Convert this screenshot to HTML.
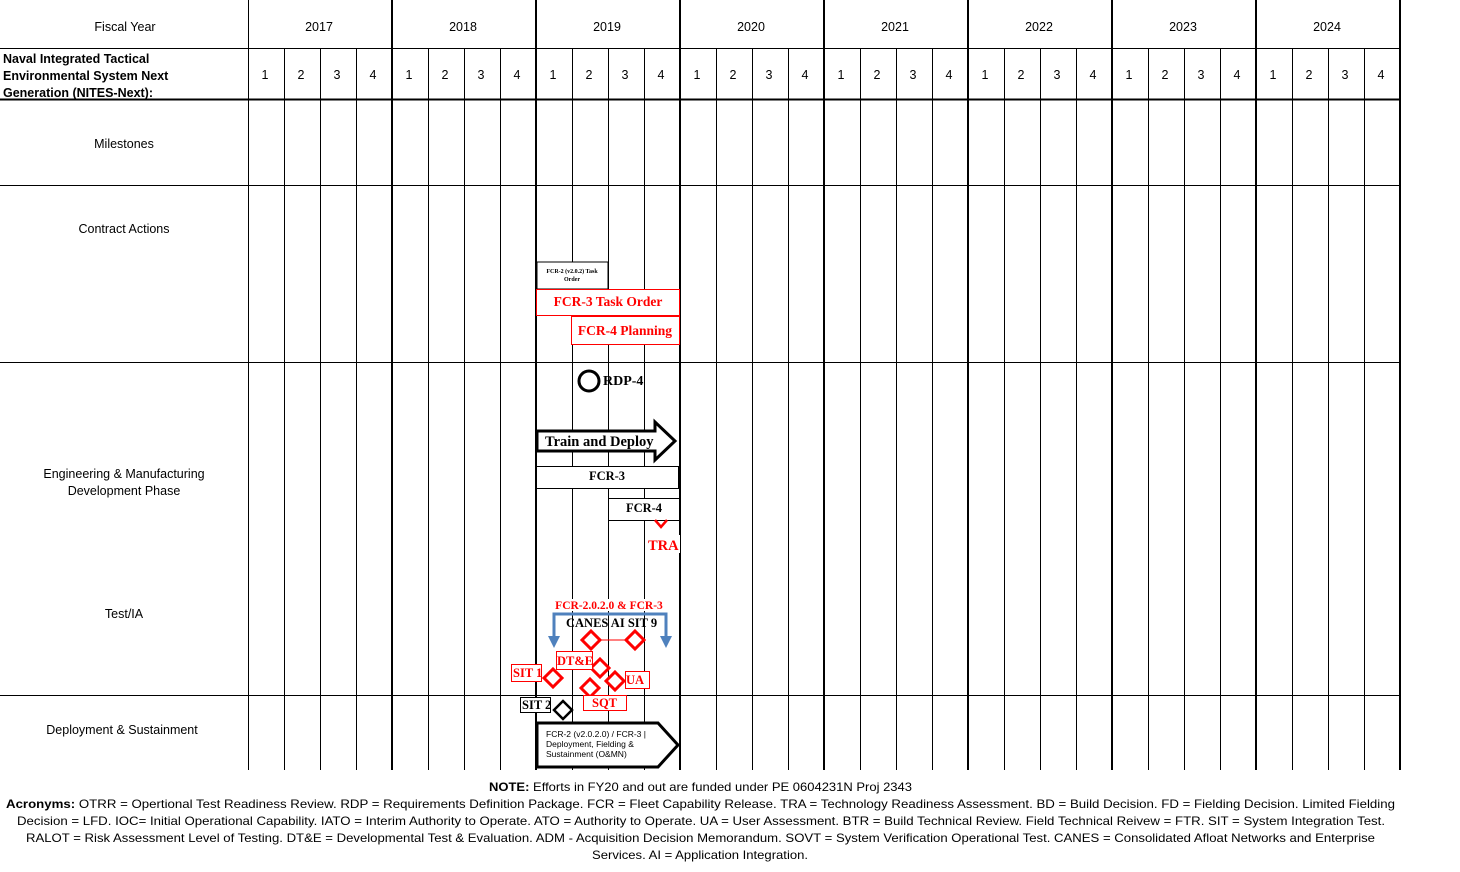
<!DOCTYPE html>
<html><head><meta charset="utf-8"><style>
body{margin:0;background:#fff}
svg{display:block}
text{font-family:"Liberation Sans",Arial,sans-serif}
text.s,.s text{font-family:"Liberation Serif","Times New Roman",serif;font-weight:bold}
</style></head><body>
<svg width="1460" height="872" viewBox="0 0 1460 872" xmlns="http://www.w3.org/2000/svg">
<g stroke="#000" stroke-width="1" shape-rendering="crispEdges">
<line x1="0" y1="48.5" x2="1400" y2="48.5"/>
<line x1="0" y1="99.5" x2="1400" y2="99.5" stroke-width="2"/>
<line x1="0" y1="185.5" x2="1400" y2="185.5"/>
<line x1="0" y1="362.5" x2="1400" y2="362.5"/>
<line x1="0" y1="695.5" x2="1400" y2="695.5"/>
<line x1="248.5" y1="0" x2="248.5" y2="770"/>
</g>
<g id="grid" stroke="#000" shape-rendering="crispEdges"></g>
<g font-size="12.5" text-anchor="middle" fill="#000">
<text x="125" y="31">Fiscal Year</text>
<text x="124" y="148">Milestones</text>
<text x="124" y="233">Contract Actions</text>
<text x="124" y="478">Engineering &amp; Manufacturing</text>
<text x="124" y="495">Development Phase</text>
<text x="124" y="618">Test/IA</text>
<text x="122" y="734">Deployment &amp; Sustainment</text>
</g>
<g font-size="12.5" font-weight="bold">
<text x="3" y="63">Naval Integrated Tactical</text>
<text x="3" y="80">Environmental System Next</text>
<text x="3" y="97">Generation (NITES-Next):</text>
</g>
<g id="labels" font-size="12.5" text-anchor="middle"></g>

<rect x="537" y="262" width="71" height="27" fill="#fff" stroke="#000"/>
<text class="s" x="572" y="273" font-size="6" text-anchor="middle">FCR-2 (v2.0.2) Task</text>
<text class="s" x="572" y="281" font-size="6" text-anchor="middle">Order</text>
<rect x="536.5" y="289.5" width="143" height="26" fill="#fff" stroke="#f00"/>
<text class="s" x="608" y="306" font-size="13.5" fill="#f00" text-anchor="middle">FCR-3  Task Order</text>
<rect x="571.5" y="316.5" width="108" height="28" fill="#fff" stroke="#f00"/>
<text class="s" x="625" y="335" font-size="13.5" fill="#f00" text-anchor="middle">FCR-4  Planning</text>

<circle cx="589" cy="381" r="10" fill="none" stroke="#000" stroke-width="3"/>
<text class="s" x="603" y="385" font-size="14">RDP-4</text>
<path d="M537 431 H655 V422 L675 441 L655 460 V451 H537 Z" fill="#fff" stroke="#000" stroke-width="3"/>
<text class="s" x="545" y="446" font-size="14.5">Train and Deploy</text>
<rect x="536.5" y="466.5" width="142" height="22" fill="#fff" stroke="#000"/>
<text class="s" x="607" y="480" font-size="12.5" text-anchor="middle">FCR-3</text>
<rect x="608.5" y="498.5" width="71" height="22" fill="#fff" stroke="#000"/>
<text class="s" x="644" y="512" font-size="12.5" text-anchor="middle">FCR-4</text>
<path d="M655 520 L661 527 L667 520" fill="none" stroke="#f00" stroke-width="2.5"/>
<rect x="646" y="535" width="34" height="18" fill="#fff"/>
<text class="s" x="648" y="550" font-size="14.5" fill="#f00">TRA</text>

<rect x="552" y="599" width="114" height="12" fill="#fff"/>
<path d="M554 642 V614 H666 V642" fill="none" stroke="#4f81bd" stroke-width="3"/>
<path d="M548 636 L554 648 L560 636 Z M660 636 L666 648 L672 636 Z" fill="#4f81bd"/>
<text class="s" x="609" y="609" font-size="11.5" fill="#f00" text-anchor="middle">FCR-2.0.2.0 &amp; FCR-3</text>
<text class="s" x="566" y="627" font-size="12.5">CANES AI SIT 9</text>
<line x1="591" y1="640" x2="635" y2="640" stroke="#f00"/>
<g fill="#fff" stroke="#f00" stroke-width="3">
<path d="M591 631 L600 640 L591 649 L582 640 Z"/>
<path d="M635 631 L644 640 L635 649 L626 640 Z"/>
<path d="M600 659 L609 668 L600 677 L591 668 Z"/>
<path d="M553 669 L562 678 L553 687 L544 678 Z"/>
<path d="M615 672 L624 681 L615 690 L606 681 Z"/>
<path d="M590 679 L599 688 L590 697 L581 688 Z"/>
</g>
<path d="M563 701 L572 710 L563 719 L554 710 Z" fill="#fff" stroke="#000" stroke-width="2.5"/>
<g fill="#fff" stroke="#f00">
<rect x="556.5" y="651.5" width="36" height="18"/>
<rect x="511.5" y="664.5" width="30" height="17"/>
<rect x="625.5" y="671.5" width="24" height="17"/>
<rect x="583.5" y="695.5" width="43" height="15"/>
</g>
<g class="s" font-size="12.5" fill="#f00">
<text x="557" y="665">DT&amp;E</text>
<text x="513" y="677">SIT 1</text>
<text x="626" y="684">UA</text>
<text x="592" y="707">SQT</text>
</g>
<rect x="520.5" y="697.5" width="30" height="15" fill="#fff" stroke="#000"/>
<text class="s" x="522" y="709" font-size="12.5">SIT 2</text>

<path d="M537 723 H658 L678 745 L658 767 H537 Z" fill="#fff" stroke="#000" stroke-width="3"/>
<g font-size="8.5">
<text x="546" y="737">FCR-2 (v2.0.2.0) / FCR-3 |</text>
<text x="546" y="747">Deployment, Fielding &amp;</text>
<text x="546" y="757">Sustainment (O&amp;MN)</text>
</g>

<g font-size="12">
<text x="489" y="791" textLength="423" lengthAdjust="spacingAndGlyphs"><tspan font-weight="bold">NOTE:</tspan> Efforts in FY20 and out are funded under PE 0604231N  Proj 2343</text>
<text x="6" y="808" textLength="1389" lengthAdjust="spacingAndGlyphs"><tspan font-weight="bold">Acronyms:</tspan>   OTRR = Opertional Test Readiness Review.  RDP = Requirements Definition Package.  FCR = Fleet Capability Release. TRA = Technology Readiness Assessment. BD = Build Decision. FD = Fielding Decision. Limited Fielding</text>
<text x="17" y="825" textLength="1368" lengthAdjust="spacingAndGlyphs">Decision = LFD. IOC= Initial Operational Capability. IATO = Interim Authority to Operate. ATO = Authority to Operate.  UA = User Assessment. BTR = Build Technical Review. Field Technical Reivew = FTR. SIT = System Integration Test.</text>
<text x="26" y="842" textLength="1349" lengthAdjust="spacingAndGlyphs">RALOT = Risk Assessment Level of Testing. DT&amp;E = Developmental Test &amp; Evaluation. ADM - Acquisition Decision Memorandum. SOVT = System Verification Operational Test. CANES = Consolidated Afloat Networks and Enterprise</text>
<text x="592" y="859" textLength="216" lengthAdjust="spacingAndGlyphs">Services. AI = Application Integration.</text>
</g>
</svg>
<script>
var ns="http://www.w3.org/2000/svg",g=document.getElementById("grid"),L=document.getElementById("labels");
function ln(x1,y1,x2,y2,w){var l=document.createElementNS(ns,"line");l.setAttribute("x1",x1);l.setAttribute("y1",y1);l.setAttribute("x2",x2);l.setAttribute("y2",y2);l.setAttribute("stroke-width",w);g.appendChild(l);}
function tx(x,y,s){var t=document.createElementNS(ns,"text");t.setAttribute("x",x);t.setAttribute("y",y);t.textContent=s;L.appendChild(t);}
for(var y=0;y<8;y++){var x0=248+y*144;
 if(y>0)ln(x0,0,x0,770,2);
 tx(x0+71,31,2017+y);
 for(var q=0;q<4;q++){var xq=x0+q*36;
  if(q>0)ln(xq+0.5,48,xq+0.5,770,1);
  tx(xq+17,79,q+1);}
}
ln(1400,0,1400,770,2);
</script>
</body></html>
